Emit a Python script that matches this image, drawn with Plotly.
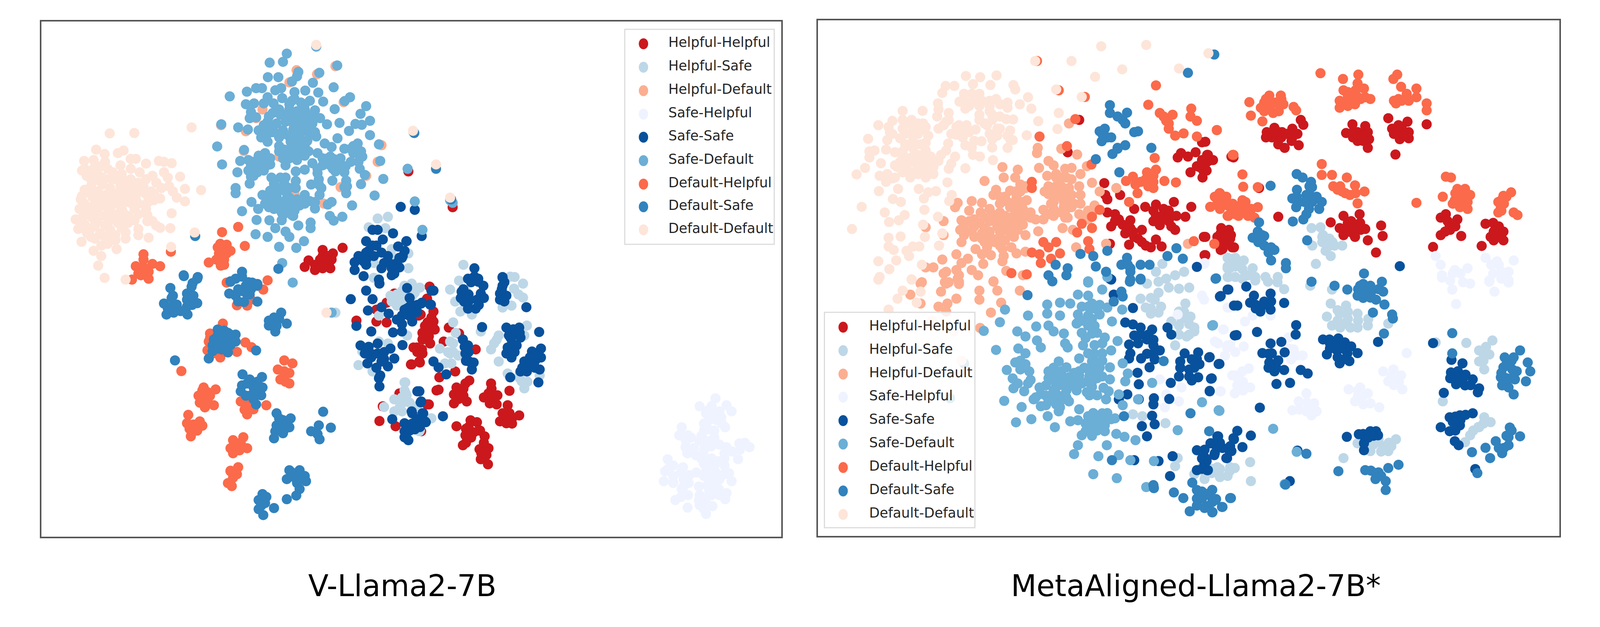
"""
Two t-SNE style scatter panels, V-Llama2-7B and MetaAligned-Llama2-7B*.
The originals have no ticks, so the points are kept in plain read-off units.
"""

import plotly.graph_objects as go

labels = [
    "Helpful-Helpful", "Helpful-Safe", "Helpful-Default",
    "Safe-Helpful", "Safe-Safe", "Safe-Default",
    "Default-Helpful", "Default-Safe", "Default-Default",
]
colours = [
    "#cb181d", "#bdd7e7", "#fcae91",
    "#eff3ff", "#08519c", "#6baed6",
    "#fb6a4a", "#3182bd", "#fee5d9",
]
titles = ["V-Llama2-7B", "MetaAligned-Llama2-7B*"]

# left panel
v_hh = [
    (1208,1353),(1130,1365),(1170,1385),(1130,1400),(1155,1440),(1075,1425),(1060,1462),(1100,1480),(1130,1470),(1160,1470),
    (1465,915),(1638,1120),(1262,1770),(1340,1775),(1380,1781),(1555,1752),(1530,1832),(1520,1878),(1550,1901),(1485,1924),
    (1520,1958),(1475,2021),(1510,2010),(1352,2345),(1415,2375),(1430,2187),(1365,2261),(1515,2404),(1545,2250),(1575,2170),
    (1410,1615),(1340,1707),(1380,1667),(1505,1741),(1548,1575),(1538,1644),(1513,1735),(1563,1718),(1563,1775),(1548,1832),
    (1523,1867),(1568,1821),(1498,1924),(1518,1935),(1478,2021),(1508,2004),(1623,1810),(1663,1844),(1728,1935),(1603,1890),
    (1648,2061),(1586,2095),(1583,2166),(1653,2153),(1688,2130),(1703,2113),(1643,2193),(1693,2233),(1643,2244),(1788,2130),
    (1778,2187),(1813,2198),(1783,2244),(1860,2172),(1853,2255),(1833,2301),(1898,2313),(1848,2358),(1823,2347),(1708,2341),
    (1733,2352),(1653,2375),(1708,2404),(1688,2427),(1678,2484),(1763,2433),(1778,2501),(1743,2507),(1748,2564),(1776,2593),
    (1538,2250),(1670,2190),(1745,2400),(1810,2250),(1870,2330),(1150,1400),(1120,1420),(1100,1450),(1130,1440),(1165,1420),
    (1540,1780),(1530,1800),(1560,1800),(1545,1860),(1520,1840),(1500,1950),(1670,2180),(1680,2160),(1660,2220),(1680,2200),
    (1790,2160),(1800,2220),(1760,2210),(1860,2300),(1870,2360),(1840,2320),(1700,2380),(1690,2390),(1720,2410),(1710,2440),
    (1690,2470),(1740,2400),(1760,2470),(1770,2540),(1750,2530),
]
v_hs = [
    (1345,1185),(1385,1175),(1310,1235),(1375,1240),(1400,1360),(1465,1385),(1465,1470),(1330,1525),(1400,1400),(1330,1440),
    (1350,1741),(1395,1627),(1440,1638),(1480,1627),(1510,1581),(1450,1570),(1420,1684),(1460,1855),(1350,1890),(1385,1901),
    (1285,1947),(1270,2025),(1325,2061),(1370,2265),(1450,2124),(1410,2221),(1455,2187),(1440,2244),(1410,2290),(1555,2330),
    (1510,2398),(1180,1724),(1508,1581),(1478,1558),(1468,1638),(1453,1627),(1453,1672),(1628,1592),(1663,1541),(1648,1661),
    (1668,1718),(1713,1735),(1863,1518),(1878,1587),(1913,1558),(1913,1638),(1868,1684),(1833,1695),(1928,1798),(1918,1855),
    (1818,1855),(1788,1935),(1818,2004),(1628,1890),(1628,1958),(1588,1930),(1633,2015),(1608,2015),(1853,2073),(1908,2118),
    (1918,2158),(1978,2084),(1748,1832),(1453,2124),(1458,2198),(1553,2330),(1508,2404),(1680,1450),(1900,2080),(1500,2260),
    (1420,1620),(1440,1600),(1420,1660),(1400,1660),(1470,1600),(1460,1650),(1490,1610),(1640,1780),(1650,1840),(1640,1900),
    (1640,1950),(1660,1970),(1620,1950),(1450,2170),(1440,2210),(1470,2240),(1430,2270),(1440,2290),(1880,1520),(1895,1620),
    (1690,1600),(1670,1650),(1685,1700),(1900,2100),(1930,2120),(1810,1880),(1800,1900),
]
v_hd = [
    (1028,335),(1108,358),(1180,312),(1212,518),(733,650),(830,685),(1000,405),(870,610),(895,560),(1045,725),
    (960,830),(1200,1005),(1300,940),(1135,1100),(822,798),(1345,860),(1360,765),(1020,1040),
]
v_sh = [
    (2665,2215),(2603,2261),(2708,2255),(2728,2290),(2628,2301),(2688,2324),(2638,2393),(2703,2381),(2533,2381),(2523,2427),
    (2558,2427),(2548,2495),(2603,2461),(2648,2490),(2588,2541),(2623,2553),(2758,2473),(2798,2495),(2708,2495),(2753,2564),
    (2678,2575),(2478,2564),(2468,2633),(2463,2690),(2538,2610),(2563,2655),(2533,2735),(2558,2770),(2628,2633),(2668,2644),
    (2718,2644),(2728,2690),(2633,2713),(2678,2735),(2708,2758),(2703,2793),(2508,2798),(2556,2841),(2603,2770),(2648,2770),
    (2603,2827),(2653,2833),(2628,2878),(2670,2690),(2590,2640),(2650,2260),(2680,2290),(2640,2340),(2670,2340),(2660,2400),
    (2620,2360),(2550,2460),(2580,2500),(2535,2430),(2620,2510),(2620,2590),(2650,2560),(2700,2530),(2680,2480),(2730,2520),
    (2660,2610),(2640,2690),(2680,2680),(2700,2600),(2500,2600),(2500,2660),(2540,2680),(2540,2720),(2560,2700),(2630,2780),
    (2630,2820),(2600,2720),(2640,2280),(2665,2310),(2690,2360),(2620,2400),(2660,2440),(2610,2430),(2630,2460),(2570,2440),
    (2555,2530),(2610,2560),(2650,2600),(2700,2560),(2760,2510),(2780,2470),(2500,2700),(2480,2620),(2530,2640),(2530,2780),
    (2620,2660),(2660,2660),(2700,2650),(2660,2720),(2640,2740),(2680,2770),(2620,2850),(2600,2800),
]
v_ss = [
    (1435,1118),(1490,1135),(1517,1285),(1325,1250),(1345,1250),(1405,1270),(1300,1315),(1365,1305),(1340,1340),(1310,1370),
    (1457,1315),(1425,1345),(1450,1370),(1385,1400),(1440,1410),(1270,1400),(1255,1435),(1300,1420),(1360,1380),(1255,1480),
    (1290,1515),(1420,1440),(1360,1470),(1400,1470),(1430,1465),(1410,1500),(1350,1535),(1300,1450),(1352,1558),(1300,1598),
    (1325,1647),(1240,1647),(1360,1693),(1307,1712),(1388,1730),(1262,1800),(1320,1832),(1405,1838),(1442,1910),(1278,1912),
    (1345,1901),(1395,1930),(1295,1958),(1345,1958),(1410,1987),(1305,2015),(1360,2004),(1385,2032),(1355,2084),(1352,2147),
    (1460,1583),(1485,1684),(1450,1707),(1420,1764),(1480,1775),(1440,1832),(1515,1672),(1555,1598),(1550,1678),(1440,1741),
    (1500,2175),(1515,2233),(1402,2335),(1450,2358),(1480,2301),(1520,2301),(1450,2404),(1490,2393),(1530,2347),(1450,2438),
    (1465,2455),(1563,1598),(1518,1667),(1553,1678),(1468,1741),(1723,1518),(1738,1547),(1758,1570),(1673,1604),(1748,1615),
    (1683,1661),(1733,1650),(1698,1701),(1728,1701),(1833,1524),(1833,1570),(1823,1615),(1848,1627),(1823,1650),(1926,1693),
    (1753,1807),(1848,1810),(1898,1810),(1873,1844),(1858,1855),(1903,1867),(1888,1912),(1853,1924),(1868,1981),(1848,1958),
    (1976,1835),(1983,1930),(1948,1947),(1983,1981),(1918,2004),(1948,2004),(1903,2061),(1928,2061),(1978,2050),(1863,2095),
    (1973,2124),(1678,1878),(1698,1912),(1688,1958),(1703,2004),(1713,2050),(1563,2004),(1583,2038),(1613,2078),(1600,2318),
    (1508,2175),(1513,2238),(1478,2290),(1498,2335),(1533,2352),(1458,2444),(1523,2301),(1833,1520),(1723,1470),(1698,1530),
    (1738,1530),(1458,1315),(1443,1400),(1470,1640),(1490,1720),(1500,1680),(1470,1690),(1500,1720),(1480,1730),(1460,1700),
    (1440,1790),(1310,1920),(1370,1950),(1320,1980),(1370,1990),(1340,2040),(1350,2100),(1320,1960),(1330,1400),(1325,1340),
    (1300,1380),(1290,1430),(1430,1410),(1370,1440),(1400,1510),(1390,1440),(1500,2340),(1480,2360),(1510,2380),(1470,2400),
    (1700,1620),(1760,1640),(1700,1660),(1740,1680),(1670,1640),(1710,1550),(1680,1590),(1830,1590),(1840,1660),(1840,1550),
    (1875,1820),(1865,1870),(1870,1900),(1900,1840),(1880,1950),(1860,1960),(1940,1980),(1960,2000),(1930,2030),(1960,2040),
    (1910,2040),(1700,1950),(1720,2010),(1685,1920),(1690,2000),(1960,1970),
]
v_sd = [
    (990,240),(975,287),(923,292),(1187,308),(1035,345),(1030,370),(1117,350),(916,375),(957,375),(1010,400),
    (1092,407),(1173,433),(767,485),(834,458),(870,438),(893,438),(945,450),(968,438),(1020,460),(1062,452),
    (1113,463),(1132,515),(1237,490),(1216,512),(1177,558),(1300,541),(1278,585),(830,530),(862,525),(900,525),
    (915,490),(938,525),(972,495),(1020,500),(1045,520),(1080,510),(850,575),(870,605),(845,610),(1000,560),
    (1030,570),(1060,560),(1100,565),(935,580),(965,590),(1120,610),(1147,645),(1196,637),(1258,643),(1283,648),
    (1315,625),(1233,683),(734,645),(800,663),(838,675),(915,630),(950,640),(985,630),(1020,620),(1060,620),
    (1090,640),(895,690),(935,690),(975,680),(1015,675),(1060,680),(1105,715),(1315,707),(890,720),(915,745),
    (960,720),(1000,715),(1040,700),(1080,700),(1188,725),(718,772),(823,792),(1350,760),(1138,755),(1267,755),
    (1215,785),(1240,785),(1165,775),(1040,750),(1010,770),(1060,770),(960,800),(990,810),(1030,810),(1060,825),
    (905,810),(880,825),(1110,810),(1250,810),(1275,825),(1285,830),(808,855),(737,875),(1355,855),(985,880),
    (1090,868),(1145,860),(1175,845),(1200,840),(925,875),(895,885),(850,885),(875,920),(1220,885),(1130,880),
    (1160,880),(797,920),(1275,900),(1295,935),(1215,920),(1180,915),(1060,905),(1025,915),(1110,925),(850,945),
    (965,950),(985,950),(1367,958),(1168,968),(1222,968),(1115,960),(1025,970),(845,985),(940,985),(980,985),
    (1280,988),(1085,990),(1125,1010),(790,1010),(790,1040),(925,1025),(960,1025),(1025,1010),(1215,1005),(1222,1040),
    (1118,1050),(1333,1053),(895,1050),(935,1055),(1000,1065),(1060,1050),(1030,1075),(852,1090),(920,1090),(965,1090),
    (1080,1085),(1165,1090),(1150,1105),(1245,1110),(878,1130),(965,1125),(1030,1115),(1100,1128),(815,1143),(975,1165),
    (1015,1170),(1158,1170),(1207,1175),(1173,1197),(872,1193),(922,1195),(970,1195),(1083,1208),(1035,1225),(1083,1240),
    (945,1240),(868,1275),(915,1290),(985,1260),(1000,1290),(1057,1315),(960,1347),(1027,1353),(972,1440),(1490,1087),
    (1520,1250),(1462,900),(1485,690),(1105,200),(1013,1552),(1165,1724),(1638,1095),(1628,1080),(1000,530),(1040,590),
    (1000,600),(960,560),(1075,600),(1040,640),(920,600),(900,650),(940,650),(980,700),(1020,730),(1080,660),
    (1050,780),(1000,840),(1030,850),(975,840),(960,770),(840,850),(860,860),(880,870),(900,850),(870,900),
    (900,910),(850,920),(930,950),(950,1010),(910,1060),(950,1060),(985,1030),(920,1120),(940,1130),(990,1100),
    (1020,1140),(1040,1080),(970,1150),(1000,1130),(1060,1100),(1150,840),(1170,900),(1200,880),(1250,780),(1265,790),
    (1270,860),(1115,990),(1225,1000),(1100,1090),(1010,510),(1060,530),(1015,640),(1050,670),(1090,590),(985,590),
    (925,650),(880,680),(915,700),(955,700),(1005,745),(1070,740),(1100,690),(1045,730),(1000,790),(1025,785),
    (980,790),(1075,800),(860,890),(885,850),(905,890),(925,840),(840,910),(860,940),(945,1000),(970,1010),
    (1000,1010),(935,1035),(905,1100),(945,1100),(990,1070),(1010,1090),(1040,1110),(985,1145),(1010,1165),(1250,770),
    (1280,800),(1240,860),(1130,840),(1160,830),(1190,860),(1110,900),
]
v_dh = [
    (800,1233),(737,1263),(826,1342),(730,1330),(755,1335),(725,1385),(755,1385),(715,1420),(745,1420),(732,1455),
    (685,1437),(430,1390),(465,1445),(495,1458),(400,1458),(435,1470),(420,1510),(450,1530),(385,1535),(915,1539),
    (537,1375),(898,1592),(755,1552),(795,1682),(835,1684),(850,1650),(740,1787),(690,1844),(685,1890),(700,1958),
    (730,1981),(795,1949),(828,1895),(852,1922),(578,2059),(980,1998),(1012,2015),(955,2050),(965,2107),(1000,2130),
    (665,2153),(712,2164),(645,2200),(680,2233),(705,2255),(670,2267),(605,2310),(650,2347),(600,2358),(660,2372),
    (625,2404),(615,2433),(810,2233),(860,2278),(835,2307),(910,2255),(820,2438),(780,2455),(770,2501),(835,2501),
    (780,2530),(805,2513),(770,2633),(795,2650),(760,2701),(775,2718),(980,2060),(670,2210),(625,2365),(735,1365),
    (770,1370),(745,1345),(720,1350),(745,1450),(430,1420),(420,1470),(450,1490),(440,1510),(410,1500),(1000,2070),
    (980,2090),(985,2120),(650,2240),(680,2180),(690,2200),(660,2170),(630,2380),(640,2400),(610,2390),(790,2470),
    (810,2470),(790,2490),(770,2630),(780,2670),(800,2610),(840,2260),(830,2250),(850,2270),(825,2280),(690,1870),
    (700,1900),(680,1940),(720,1960),
]
v_ds = [
    (587,1510),(642,1520),(622,1555),(632,1285),(815,1490),(790,1530),(770,1545),(840,1550),(875,1560),(957,1473),
    (588,1515),(640,1530),(618,1575),(535,1583),(545,1627),(600,1615),(625,1627),(510,1672),(560,1678),(640,1670),
    (535,1695),(520,1735),(548,1724),(602,1735),(770,1547),(815,1518),(830,1570),(855,1552),(875,1570),(765,1615),
    (790,1627),(830,1610),(875,1661),(823,1663),(968,1724),(940,1752),(920,1798),(945,1832),(990,1787),(720,1821),
    (745,1827),(790,1850),(705,1878),(750,1878),(790,1890),(700,1912),(735,1935),(760,1952),(685,1987),(870,1941),
    (553,1998),(817,2078),(845,2107),(893,2093),(815,2141),(860,2153),(895,2153),(810,2175),(850,2198),(890,2198),
    (870,2250),(950,2301),(1005,2330),(950,2370),(985,2358),(1000,2381),(945,2404),(975,2415),(940,2444),(1132,2292),
    (1115,2370),(1085,2404),(1162,2383),(1118,2450),(1000,2627),(1040,2627),(1020,2667),(1065,2690),(990,2678),(1040,2735),
    (1027,2772),(990,2793),(895,2764),(880,2798),(905,2815),(940,2844),(880,2850),(898,2884),(1573,900),(1488,695),
    (1632,1075),(540,1640),(600,1650),(620,1680),(600,1690),(525,1700),(575,1715),(815,1600),(800,1590),(845,1620),
    (850,1590),(800,1660),(745,1850),(770,1850),(730,1900),(770,1910),(720,1855),(760,1890),(730,1860),(700,1945),
    (835,2130),(875,2120),(830,2200),(870,2170),(860,2220),(920,1770),(950,1800),(960,1760),(975,2340),(960,2330),
    (980,2395),(1010,2640),(1040,2660),(1030,2700),(1060,2660),(890,2800),(910,2780),(1110,2420),(890,2830),(730,1880),
    (750,1910),(720,1930),(780,1870),(760,1840),
]
v_dd = [
    (298,697),(394,695),(618,663),(245,790),(278,815),(330,810),(352,795),(198,855),(235,850),(280,860),
    (380,843),(400,843),(440,870),(490,855),(510,860),(540,868),(208,940),(250,920),(290,900),(340,880),
    (380,900),(415,920),(510,920),(573,945),(525,950),(225,1000),(270,990),(320,960),(360,970),(440,960),
    (480,980),(500,1010),(545,1030),(592,1015),(655,1022),(185,1075),(230,1060),(280,1050),(330,1040),(380,1040),
    (420,1030),(460,1030),(560,1065),(592,1087),(495,1070),(445,1095),(180,1130),(220,1120),(270,1110),(320,1100),
    (370,1090),(410,1100),(180,1190),(165,1190),(230,1180),(280,1170),(330,1160),(370,1170),(410,1160),(445,1165),
    (540,1155),(465,1200),(175,1245),(225,1240),(280,1225),(330,1210),(370,1210),(495,1238),(535,1240),(410,1245),
    (410,1280),(450,1295),(188,1318),(240,1300),(300,1300),(360,1300),(235,1370),(265,1400),(325,1360),(253,1455),
    (278,1525),(630,1265),(538,1348),(360,1535),(1105,190),(1483,682),(1573,875),(1628,1065),(1145,1724),(200,900),
    (235,900),(270,950),(310,920),(345,930),(380,960),(410,980),(225,960),(250,1030),(200,1020),(300,1010),
    (340,1000),(380,1000),(430,1000),(465,940),(200,1100),(250,1080),(300,1070),(350,1070),(400,1070),(205,1160),
    (250,1140),(300,1140),(345,1130),(395,1130),(200,1220),(250,1200),(300,1190),(345,1240),(210,1270),(260,1270),
    (300,1250),(265,1340),(290,1330),(320,1310),(440,1130),(470,1040),(530,1000),(470,1080),(445,1200),(480,1225),
    (190,910),(215,935),(245,965),(262,885),(300,955),(335,965),(360,1015),(400,1015),(440,1045),(190,1055),
    (222,1035),(265,1065),(315,1055),(358,1045),(192,1115),(238,1105),(288,1095),(335,1090),(385,1100),(195,1175),
    (240,1165),(290,1155),(350,1150),(195,1240),(240,1225),(290,1215),(350,1200),(395,1195),(225,1290),(275,1285),
    (320,1280),(360,1265),
]

# right panel
m_hh = [
    (1048,982),(1052,1050),(1060,1075),(1110,1050),(1165,1130),(1208,1118),(1250,1105),(1320,1090),(1388,1118),(1240,1140),
    (1280,1130),(1310,1170),(1250,1170),(1365,1175),(1060,1150),(1090,1160),(1075,1230),(1105,1190),(1150,1195),(1265,1223),
    (1300,1200),(1325,1250),(1150,1240),(1130,1270),(1195,1250),(1165,1290),(1195,1320),(1250,1305),(1145,1335),(1230,1350),
    (1272,1345),(1437,1290),(1440,1395),(1430,748),(1348,810),(1335,835),(1375,830),(1405,805),(1450,820),(1465,850),
    (1410,885),(1385,920),(1435,910),(1432,950),(950,620),(905,805),(1545,830),(1070,1330),(1505,1240),(1535,1250),
    (1490,1290),(1540,1300),(1510,1360),(1555,1350),(1443,745),(1453,820),(1473,850),(1448,910),(1553,835),(1816,620),
    (1826,648),(1683,690),(1713,665),(1703,720),(1743,690),(1783,670),(1803,700),(1728,760),(1753,780),(1808,765),
    (1783,720),(2018,645),(2068,655),(1993,695),(2038,690),(2078,690),(2038,740),(2083,730),(2078,780),(2158,610),
    (2173,670),(2233,630),(2198,650),(2238,690),(2203,730),(2238,725),(2308,645),(2186,818),(1653,1010),(1728,1175),
    (1933,1207),(1983,1170),(2046,1160),(1968,1240),(2013,1200),(2048,1210),(2068,1245),(1983,1280),(2028,1290),(2078,1310),
    (2130,1225),(2136,1285),(2110,1380),(2363,1180),(2383,1160),(2428,1190),(2398,1225),(2363,1280),(2443,1285),(2568,1210),
    (2538,1215),(2608,1260),(2558,1290),(2608,1310),(2333,1348),(2523,1342),(1503,1270),(1528,1270),(1543,1280),(1498,1300),
    (1548,1350),(1503,1365),(1443,1290),(1443,1395),(1280,1160),(1240,1200),(1270,1180),(1300,1140),(1330,1170),(1310,1230),
    (1180,1300),(1160,1260),(1210,1340),(1120,1220),(1090,1200),(1430,850),(1420,890),(1450,860),(1520,1270),(1510,1320),
    (1530,1320),(1700,700),(1720,720),(1680,720),(1740,720),(1760,700),(1730,690),(1780,740),(2020,690),(2020,720),
    (2060,700),(2060,740),(2210,660),(2200,690),(2180,700),(2220,700),(2000,1210),(1990,1240),(2030,1240),(2000,1260),
    (2050,1250),(2020,1270),(2390,1200),(2400,1250),(2380,1260),(2420,1230),(2590,1250),(2590,1230),(2570,1260),(2590,1290),
    (2570,1310),
]
m_hs = [
    (1275,1445),(1250,1490),(1290,1530),(1325,1510),(1360,1490),(1530,1410),(1560,1410),(1530,1470),(1530,1520),(1215,1558),
    (1260,1547),(1300,1581),(1340,1587),(1380,1581),(1190,1644),(1245,1650),(1210,1695),(1260,1724),(1230,1730),(1365,1672),
    (1340,1718),(1385,1747),(1310,1775),(1340,1798),(1400,1810),(1370,1861),(1325,1912),(1400,1832),(1160,2307),(1197,2318),
    (1287,2358),(1325,2604),(1335,2558),(1440,2678),(1500,2667),(1430,2610),(1490,2610),(1540,2610),(1400,2650),(1751,1590),
    (1933,1672),(1993,1684),(1918,1747),(1968,1730),(2038,1730),(1938,1798),(1988,1787),(2038,1810),(2078,1798),(2158,1787),
    (2463,1898),(2565,1884),(2513,1941),(2553,1964),(2513,2004),(2533,2050),(2371,2233),(2533,2324),(2558,2352),(2513,2381),
    (2478,2427),(2458,2467),(2038,2473),(2088,2518),(2138,2490),(2188,2450),(2158,2518),(1983,2558),(1618,2581),(1621,2690),
    (1498,2655),(1538,2633),(1468,2644),(1558,2615),(1853,1570),(1938,1592),(2343,1895),(1538,1415),(1568,1430),(1593,1425),
    (1538,1470),(1588,1475),(1628,1470),(1533,1520),(1588,1530),(1638,1520),(1678,1520),(1726,1520),(1858,1240),(1893,1235),
    (1903,1280),(1928,1300),(1948,1340),(1913,1370),(1978,1340),(1933,1400),(1861,1340),(1875,1445),(1638,1540),(1688,1547),
    (1725,1550),(1530,1460),(1560,1460),(1560,1520),(1610,1510),(1900,1320),(1940,1320),(1900,1290),(1930,1340),(1960,1710),
    (2000,1720),(1960,1770),(2000,1760),(2040,1770),(2080,1760),(1970,1810),(2010,1810),(2530,1960),(2530,2000),(2540,1920),
    (2510,2380),(2530,2360),(2490,2400),(2070,2500),(2100,2480),(2130,2520),(2170,2490),(2120,2450),(2160,2470),(1470,2620),
    (1500,2620),(1530,2660),(1440,2640),(1260,1610),(1230,1640),(1270,1690),(1230,1700),(1360,1720),(1380,1790),(1350,1760),
    (1380,1850),(1340,1850),
]
m_hd = [
    (580,970),(650,890),(710,905),(655,950),(700,950),(720,990),(740,1000),(625,1020),(615,1050),(680,1025),
    (720,1030),(745,1080),(705,1065),(530,1085),(570,1095),(475,1095),(465,1120),(640,1100),(680,1120),(730,1130),
    (520,1140),(565,1150),(490,1195),(540,1190),(610,1160),(660,1170),(710,1170),(485,1250),(530,1260),(580,1240),
    (630,1230),(680,1230),(730,1220),(740,1280),(540,1290),(590,1290),(640,1290),(695,1290),(490,1320),(545,1360),
    (590,1350),(605,1395),(640,1340),(685,1350),(705,1385),(655,1400),(650,1430),(470,1390),(415,1420),(515,1415),
    (575,1445),(490,1440),(380,1465),(350,1465),(470,1480),(420,1500),(530,1480),(555,1510),(475,1530),(615,1545),
    (335,1550),(425,1550),(830,855),(850,880),(793,895),(895,900),(920,895),(955,930),(825,940),(860,950),
    (900,950),(950,1000),(1000,980),(1030,1030),(1095,1010),(830,1000),(870,1000),(910,1010),(830,1045),(880,1050),
    (920,1050),(955,1050),(850,1090),(915,1080),(955,1100),(810,1135),(850,1130),(890,1120),(780,1190),(810,1190),
    (850,1170),(905,1180),(950,1160),(985,1140),(1010,1110),(885,1240),(790,1258),(925,1250),(785,810),(788,780),
    (740,1010),(910,640),(880,785),(942,818),(980,885),(665,1485),(730,1510),(740,1375),(938,1350),(1055,1330),
    (1375,1330),(420,1200),(350,1235),(420,1280),(330,1558),(410,1604),(430,1558),(480,1547),(290,1621),(330,1672),
    (400,1690),(435,1672),(470,1644),(430,1718),(560,1598),(560,1650),(615,1547),(630,1598),(645,1667),(605,1724),
    (718,1598),(563,1812),(600,1200),(640,1200),(600,1260),(640,1260),(680,1270),(570,1270),(560,1210),(520,1200),
    (500,1230),(580,1320),(620,1320),(660,1310),(570,1390),(700,1090),(760,1150),(700,1130),(660,1060),(680,1180),
    (730,1180),(600,1130),(880,1000),(840,1020),(900,1020),(860,1060),(900,1060),(860,1000),(880,950),(880,1150),
    (920,1120),(840,1100),(985,1190),(960,1170),(1000,1160),(430,1490),(480,1510),(440,1550),(480,1560),(580,1180),
    (620,1180),(650,1210),(700,1200),(710,1250),(660,1250),(610,1300),(570,1300),(650,1360),(540,1230),(500,1280),
    (700,1140),(730,1090),(670,1090),(640,1150),(760,1180),(640,1060),(700,1030),(860,930),(870,1030),(890,1090),
    (830,1160),(900,1130),(930,1100),(815,1030),(920,960),(895,1180),(855,1150),
]
m_sh = [
    (2343,1400),(2363,1450),(2418,1480),(2468,1470),(2368,1510),(2538,1410),(2583,1430),(2648,1425),(2568,1500),(2628,1490),
    (2553,1540),(2628,1540),(1438,1445),(2368,1524),(2478,1558),(2408,1592),(2423,1675),(2573,1604),(2553,1547),(2628,1552),
    (2230,1956),(2178,2050),(2138,2061),(2208,2084),(2158,2118),(2213,2164),(2003,2164),(2048,2153),(2078,2187),(2028,2233),
    (2088,2244),(2123,2267),(1838,2187),(1808,2233),(1868,2244),(1783,2284),(1838,2290),(1878,2290),(1858,2313),(1768,1867),
    (1788,1935),(1823,1970),(1778,1992),(1548,2084),(1588,2061),(1613,2044),(1568,2141),(1618,2153),(1558,2187),(1528,1924),
    (1493,1901),(1593,1918),(1513,1821),(1503,2175),(1538,1695),(1598,1775),(1628,1741),(1698,1741),(1438,1650),(1430,1627),
    (1530,1695),(1335,1735),(1265,2107),(1350,2153),(1290,2193),(1340,2233),(1285,2267),(1515,1821),(1480,1890),(1530,1912),
    (1560,2084),(1500,2175),(1440,1440),(2410,1500),(2440,1500),(2400,1540),(2450,1550),(2590,1450),(2600,1530),(2560,1450),
    (2600,1490),(2170,2090),(2180,2140),(2200,2120),(2040,2200),(2060,2200),(2040,2170),(2060,2250),(1840,2240),(1810,2280),
    (1850,2260),(1860,2280),(1770,1930),(1800,1970),(1590,2120),(1590,2170),(1570,2100),(1540,1910),(1560,1950),(1520,1970),
]
m_ss = [
    (1160,1698),(1130,1781),(1160,1792),(1190,1810),(1235,1821),(1165,1855),(1215,1878),(1145,1907),(1240,1912),(1265,1941),
    (1150,1958),(1192,1987),(1145,1987),(1245,1992),(1225,2038),(1178,2069),(1183,2135),(1295,1810),(1310,1850),(1138,2193),
    (1105,2221),(1183,2221),(1242,2215),(1240,2250),(1302,2219),(1308,2127),(1235,2315),(1245,2364),(1195,2375),(1215,2433),
    (1362,1958),(1415,1952),(1460,1979),(1345,2004),(1390,1992),(1495,2019),(1340,2090),(1380,2050),(1415,2095),(1390,2113),
    (1465,2103),(1460,2175),(1085,1621),(1075,1535),(1315,2547),(1305,2661),(1240,2718),(1165,2570),(1260,2575),(1530,1592),
    (1500,1632),(1555,1684),(1558,1855),(1410,2513),(1440,2553),(1490,2495),(1490,2433),(1465,2473),(1410,2627),(1450,2627),
    (1480,2530),(1525,2558),(1555,2450),(1545,2518),(1410,1462),(1070,1530),(1533,1592),(1503,1629),(1603,1575),(1633,1627),
    (1698,1615),(1568,1684),(1618,1667),(1673,1661),(1658,1718),(1698,1707),(1751,1669),(1798,1796),(1796,1850),(1645,1835),
    (1565,1853),(1698,1901),(1740,1892),(1666,1956),(1703,1958),(1753,1952),(1693,2010),(1728,1998),(1713,2061),(1751,2053),
    (1816,2053),(1843,2073),(1721,2133),(1774,2127),(1656,2269),(1458,1981),(1498,2018),(1468,2101),(1460,2173),(1493,2433),
    (1568,2402),(1621,2429),(1553,2444),(1463,2473),(1498,2495),(1588,2495),(1538,2518),(1528,2558),(1478,2541),(1448,2575),
    (1453,2627),(1903,1878),(1963,1872),(1928,1878),(1988,1895),(2013,1918),(1918,1964),(1958,1941),(1998,1958),(2038,1956),
    (1968,2015),(2006,2002),(2118,1892),(1996,2436),(2043,2421),(2088,2404),(2110,2404),(2068,2450),(2063,2513),(2118,2427),
    (2063,2473),(2333,1899),(2375,2184),(2405,1995),(2448,2015),(2403,2067),(2448,2084),(2488,2107),(2423,2135),(2458,2141),
    (2513,2158),(2508,2181),(2488,2301),(2438,2313),(2398,2324),(2363,2381),(2438,2370),(2398,2404),(2418,2461),(2433,2484),
    (2498,2621),(1773,2690),(2203,1458),(1803,2515),(1190,1850),(1220,1850),(1240,1880),(1180,1900),(1215,1960),(1245,1950),
    (1410,1990),(1400,2040),(1420,2020),(1380,2090),(1345,2040),(1510,2500),(1500,2470),(1480,2480),(1440,2510),(1440,2590),
    (1430,2560),(1540,2490),(1430,2620),(1640,1680),(1700,1660),(1640,1700),(1670,1680),(1690,1960),(1720,2040),(1690,2040),
    (1950,1910),(1980,1930),(1930,1930),(1960,1980),(1990,1990),(1930,1900),(2060,2420),(2080,2440),(2100,2430),(2430,2060),
    (2450,2100),(2480,2140),(2420,2100),(2400,2100),(2460,2080),(2420,2320),(2440,2340),(2420,2400),(2410,2350),(2460,2310),
]
m_sd = [
    (660,1707),(750,1741),(640,1779),(577,1829),(708,1832),(740,1861),(782,1804),(825,1678),(875,1667),(825,1730),
    (875,1741),(830,1798),(850,1832),(890,1844),(895,1901),(905,1924),(785,1884),(800,1924),(625,1938),(712,1930),
    (740,1958),(715,2004),(755,2061),(720,2050),(667,2053),(690,2101),(750,2130),(735,2175),(693,2158),(657,2230),
    (725,2265),(703,2353),(763,2335),(827,2318),(772,2221),(800,2261),(830,2233),(875,2267),(855,2381),(915,2347),
    (950,2278),(945,2341),(985,2318),(975,2404),(960,2427),(945,2484),(930,2535),(1025,2547),(1005,2650),(1097,2673),
    (1105,2541),(1150,2570),(1242,2575),(1212,2724),(945,1621),(985,1627),(1040,1592),(985,1552),(915,1672),(1000,1672),
    (945,1735),(985,1741),(1030,1735),(940,1787),(985,1798),(1000,1844),(1050,1867),(1078,1775),(1100,1887),(965,1912),
    (1075,1941),(1040,1958),(985,1958),(950,1987),(1000,2004),(1070,2038),(1020,2061),(1070,2107),(1120,2015),(1140,2073),
    (1130,2118),(1065,2175),(1055,2221),(1105,2193),(1120,2255),(990,2198),(1020,2198),(1180,2221),(1235,2127),(1470,1798),
    (1495,2284),(1430,2238),(1335,2398),(1170,2455),(1127,2436),(1095,2419),(1058,2484),(1050,2404),(1000,2381),(1040,2301),
    (1075,2335),(1030,2358),(830,2061),(870,2004),(900,2038),(860,2095),(910,2095),(950,2084),(990,2061),(820,2141),
    (870,2141),(920,2141),(960,2130),(795,2153),(840,2198),(890,2198),(780,2210),(820,2255),(875,2233),(910,2233),
    (1020,1707),(1060,1695),(1118,1707),(500,2015),(445,2215),(1473,1796),(1498,2287),(1708,2390),(1800,2522),(1753,2707),
    (985,1545),(1060,1520),(1000,1700),(960,1690),(960,1770),(1000,1760),(960,1840),(1010,1910),(1010,1960),(1020,2010),
    (850,2110),(880,2100),(900,2130),(850,2170),(900,2170),(940,2170),(860,2250),(850,2040),(830,2100),(980,2120),
    (920,2100),(1000,2150),(1040,2090),(1000,2310),(1030,2340),(1060,2300),(1020,2400),(975,2360),(1000,2430),(720,2000),
    (740,2020),(700,2010),(760,2110),(710,2130),(1045,2155),(1020,2100),(1040,2000),(1000,2050),(950,2060),(970,2040),
    (930,2070),(880,2060),(845,2080),(860,2140),(900,2100),(945,2130),(990,2090),(1030,2040),(1000,2120),(980,2180),
    (820,2200),(860,2190),(900,2210),(845,2230),(800,2190),(870,2290),(985,1690),(1030,1680),(945,1780),(1010,1800),
    (975,1870),(1040,1900),(1020,1840),(1040,2340),(1050,2370),(1010,2350),(1000,2400),(1090,2330),(1005,2300),
]
m_dh = [
    (1250,422),(1220,533),(1265,580),(1315,590),(1388,555),(1385,600),(1410,625),(1290,625),(1300,670),(1325,710),
    (1358,697),(1410,715),(1488,678),(795,715),(902,770),(1245,838),(1550,820),(998,875),(765,975),(765,1010),
    (1215,920),(1250,905),(1160,945),(1133,970),(1190,975),(1240,975),(1283,970),(1328,978),(1178,1040),(1240,1010),
    (1145,1090),(1030,1135),(1000,1175),(960,1215),(1000,1240),(942,1265),(1500,1040),(1480,1060),(1525,1060),(1462,1118),
    (1530,1110),(1560,1140),(1530,1170),(1398,1315),(985,1315),(990,1360),(810,1320),(860,1320),(830,1350),(765,1380),
    (795,1390),(875,1385),(800,1440),(840,1415),(685,1498),(745,1505),(785,282),(972,488),(870,450),(935,615),
    (1893,352),(1981,385),(2041,360),(2193,360),(2178,385),(2268,440),(1615,518),(1621,595),(1666,628),(1693,480),
    (1738,480),(1673,520),(1718,520),(1748,530),(1673,570),(1708,580),(1788,545),(1798,565),(1983,450),(2038,410),
    (2063,440),(1968,510),(2018,470),(2068,490),(2088,500),(1968,550),(2028,530),(2208,430),(2198,500),(2238,510),
    (2268,490),(2188,525),(2308,525),(2308,565),(1488,678),(1553,820),(1898,873),(1588,932),(1898,935),(1938,935),
    (1996,950),(2028,995),(1943,1000),(1978,1030),(2008,1050),(2065,1030),(1591,1003),(1648,1005),(2038,1098),(2268,1095),
    (2383,945),(2403,950),(2428,1015),(2458,1015),(2478,1050),(2371,1060),(2418,1080),(2468,1090),(2438,1120),(2468,1130),
    (2638,1035),(2608,1055),(2588,1090),(2598,1120),(2588,1150),(2648,1150),(2663,1165),(1498,1040),(1518,1060),(1463,1118),
    (1538,1100),(1588,1080),(1558,1130),(1598,1135),(1533,1170),(1573,1170),(1648,1120),(1623,1130),(1635,1180),(1478,1330),
    (1170,990),(1220,1000),(1210,960),(1240,940),(1510,1090),(1550,1100),(1490,1100),(1500,1130),(1540,1160),(1280,600),
    (1300,640),(1600,1090),(1580,1110),(1560,1160),(1610,1170),(1700,530),(1740,500),(1660,550),(1690,560),(1730,570),
    (1680,500),(2000,460),(2030,450),(2040,490),(1990,520),(2000,480),(2050,500),(2020,520),(2000,540),(2210,510),
    (2230,470),(2180,510),(2230,490),(1960,1020),(1990,1040),(1970,1000),(2030,1040),(2420,1040),(2430,1060),(2450,1060),
    (2410,1100),(2440,1100),(2430,1030),(2450,1110),(2600,1080),(2620,1060),(2600,1140),(2610,1100),
]
m_ds = [
    (1070,535),(1070,580),(1137,578),(1100,600),(1130,640),(1165,690),(1180,685),(1030,685),(1050,670),(1075,720),
    (1038,742),(1130,765),(1100,785),(1080,815),(1232,780),(1015,845),(1107,920),(1375,350),(955,1388),(1005,1400),
    (1015,1460),(858,1450),(905,1470),(900,1510),(830,1510),(845,1545),(1060,1370),(1055,1490),(1137,1410),(1115,1450),
    (1150,1470),(1190,1450),(1225,1450),(1150,1535),(1190,1530),(1295,1400),(1330,1355),(1355,1415),(1485,1528),(1478,245),
    (1800,930),(1823,950),(1856,975),(1860,1005),(1698,997),(1801,1020),(1838,1050),(1783,1070),(1878,1060),(1798,1120),
    (1848,1130),(1888,1130),(1838,1160),(1826,1190),(1785,1202),(1898,1090),(1653,1207),(1648,1260),(1628,1295),(1673,1285),
    (1673,1340),(1713,1365),(1700,1425),(1758,1440),(1758,1470),(1841,1310),(2063,1500),(2133,1547),(1858,1547),(1948,1570),
    (1483,1530),(1998,1592),(2048,1570),(2088,1570),(2138,1604),(2038,1627),(2088,1638),(2143,1678),(2098,1724),(2173,1735),
    (2176,1758),(2141,1844),(2408,1842),(2408,1958),(2673,1941),(2703,2010),(2713,2061),(2613,1981),(2648,1981),(2608,2038),
    (2643,2050),(2598,2095),(2653,2107),(2603,2141),(2696,2118),(2648,2193),(2628,2153),(1963,2633),(2198,2596),(2068,2627),
    (2108,2644),(2158,2615),(2108,2678),(2148,2690),(2148,2741),(1838,2533),(1756,2710),(2485,2524),(2538,2499),(2556,2558),
    (2633,2383),(2673,2433),(2628,2438),(2578,2461),(2603,2530),(2628,2484),(2506,2644),(1458,2404),(1543,2787),(1458,2770),
    (1483,2798),(1508,2838),(1471,2867),(1448,2833),(748,1624),(1115,1604),(1085,1661),(1120,1632),(1190,1535),(1148,1547),
    (1280,2002),(1125,2318),(1385,2301),(1078,2570),(1242,2730),(1320,2755),(1357,2787),(1392,2699),(1410,2741),(1415,2793),
    (1460,2758),(1485,2793),(1440,2844),(1510,2838),(1382,2863),(1470,2869),(1540,2787),(1240,2713),(1040,700),(1060,720),
    (1120,620),(1100,780),(1150,1490),(1140,1450),(1860,1090),(1830,1090),(1810,1090),(1860,1060),(1850,1000),(1800,1060),
    (1665,1280),(1650,1320),(1690,1380),(1700,1350),(2060,1560),(2040,1590),(2090,1610),(2060,1640),(2110,1650),(2120,1590),
    (2060,1600),(2640,2000),(2640,2100),(2620,2020),(2620,2100),(2660,2060),(2600,2070),(2620,2430),(2610,2500),(2640,2400),
    (2590,2500),(2120,2640),(2090,2630),(2130,2660),(1430,2790),(1470,2740),(1410,2790),(1430,2750),(1410,2830),(1470,2810),
]
m_dd = [
    (778,282),(920,282),(1036,198),(1212,190),(1118,330),(1455,238),(1012,373),(1340,325),(860,445),(960,488),
    (507,368),(563,375),(627,365),(428,425),(462,425),(535,415),(603,420),(693,420),(415,465),(500,470),
    (560,470),(700,445),(750,490),(398,525),(482,515),(540,510),(600,510),(625,500),(670,520),(718,530),
    (763,555),(260,568),(338,568),(870,580),(395,600),(440,580),(505,555),(560,590),(600,570),(665,615),
    (692,617),(790,627),(295,620),(280,635),(320,640),(430,630),(610,620),(165,650),(220,625),(205,660),
    (865,672),(545,675),(630,670),(680,680),(330,680),(400,670),(490,680),(470,705),(600,700),(630,710),
    (745,708),(125,728),(250,725),(300,710),(360,710),(200,735),(540,740),(568,742),(690,735),(438,755),
    (505,765),(610,778),(670,780),(150,795),(195,790),(230,805),(300,780),(350,795),(430,795),(130,835),
    (175,868),(230,880),(280,840),(320,850),(365,860),(400,855),(465,830),(535,820),(562,830),(613,850),
    (113,895),(80,932),(270,890),(320,890),(380,930),(440,900),(505,897),(170,940),(220,955),(290,950),
    (350,950),(195,975),(435,978),(167,1028),(242,1015),(323,1015),(360,1035),(390,1028),(452,1050),(222,1073),
    (253,1090),(343,1070),(442,1085),(100,1118),(345,1135),(190,1150),(268,1165),(207,1205),(245,1195),(398,1175),
    (62,1245),(340,1220),(415,1270),(205,1295),(252,1288),(347,1290),(205,1345),(402,1340),(225,1365),(275,1370),
    (300,1345),(325,1345),(285,1400),(235,1425),(165,1430),(335,1450),(208,1475),(170,1520),(295,1533),(165,1535),
    (295,1535),(260,1598),(240,1644),(315,1667),(330,1604),(205,1707),(375,1770),(460,1832),(490,1998),(400,1958),
    (510,520),(560,540),(600,540),(530,470),(340,640),(300,660),(260,670),(300,740),(330,760),(270,760),
    (260,800),(280,870),(320,820),(350,830),(300,830),(250,860),(350,900),(420,650),(480,650),(520,690),
    (450,700),(640,670),(680,730),(230,950),(300,920),(260,920),(320,930),(360,900),(200,930),(130,800),
    (400,560),(560,620),(590,650),(610,730),(670,710),(670,550),(640,600),(520,540),(570,510),(640,530),
    (610,590),(580,640),(300,680),(270,700),(320,700),(350,750),(290,770),(260,830),(300,860),(340,870),
    (370,830),(240,890),(290,920),(340,920),(380,890),(410,820),(450,870),(440,620),(470,660),(510,650),
    (495,720),(530,780),(220,700),(210,690),(260,620),(350,660),
]

v_points = [v_hh, v_hs, v_hd, v_sh, v_ss, v_sd, v_dh, v_ds, v_dd]
m_points = [m_hh, m_hs, m_hd, m_sh, m_ss, m_sd, m_dh, m_ds, m_dd]

MARKER_SIZE = 26


def px(x):
    # reference pixel -> paper fraction of the autosized plot
    return (x / 4784 * 4096 - 8) / 4080


def py(y):
    return 1 - (y - 8) / 1588


def add_legend(fig, box, marker_x, text_x, rows):
    fig.add_shape(
        type="rect", xref="paper", yref="paper",
        x0=px(box[0]), x1=px(box[1]), y0=py(box[2]), y1=py(box[3]),
        fillcolor="rgba(255,255,255,0.8)",
        line={"color": "#dcdcdc", "width": 3},
        layer="above",
    )
    for label, colour, row in zip(labels, colours, rows):
        fig.add_shape(
            type="circle", xref="paper", yref="paper",
            x0=px(marker_x - 14), x1=px(marker_x + 14),
            y0=py(row - 14), y1=py(row + 14),
            fillcolor=colour, line={"width": 0},
            layer="above",
        )
        fig.add_annotation(
            x=px(text_x), y=py(row - 4), xref="paper", yref="paper",
            text=label, showarrow=False, xanchor="left", yanchor="middle",
            font={"family": "DejaVu Sans", "size": 35, "color": "#262626"},
        )


fig = go.Figure()

for points, axis in ((v_points, "1"), (m_points, "2")):
    for label, colour, series in zip(labels, colours, points):
        fig.add_trace(
            go.Scatter(
                x=[p[0] for p in series],
                y=[p[1] for p in series],
                mode="markers",
                name=label,
                xaxis="x" + axis,
                yaxis="y" + axis,
                marker={"size": MARKER_SIZE, "color": colour, "line": {"width": 0}},
                showlegend=False,
            )
        )

axis_style = {
    "showticklabels": False, "ticks": "", "showgrid": False, "zeroline": False,
    "showline": True, "mirror": True, "linewidth": 4, "linecolor": "#555555",
}

fig.update_layout(
    margin={"l": 0, "r": 0, "t": 0, "b": 0},
    paper_bgcolor="white",
    plot_bgcolor="white",
    xaxis1={**axis_style, "domain": [px(124), px(2336)], "range": [31.4, 2922]},
    yaxis1={**axis_style, "domain": [py(1373), py(55)], "range": [3008, 56]},
    xaxis2={**axis_style, "domain": [px(2446), px(4662)], "range": [-70.6, 2826], "anchor": "y2"},
    yaxis2={**axis_style, "domain": [py(1371), py(52)], "range": [3004, 49], "anchor": "x2"},
)

add_legend(fig, (1868, 2315, 75, 625), 1924, 1996,
           [112, 172, 232, 292, 351, 411, 471, 529, 588])
add_legend(fig, (2465, 2915, 799, 1350), 2521, 2596,
           [837, 897, 957, 1016, 1076, 1136, 1196, 1256, 1316])

for title, centre in zip(titles, (1203, 3576)):
    fig.add_annotation(
        x=px(centre), y=py(1498), xref="paper", yref="paper",
        text=title, showarrow=False, xanchor="center", yanchor="middle",
        font={"family": "DejaVu Sans", "size": 76, "color": "black"},
    )

fig.write_html("out.html")
